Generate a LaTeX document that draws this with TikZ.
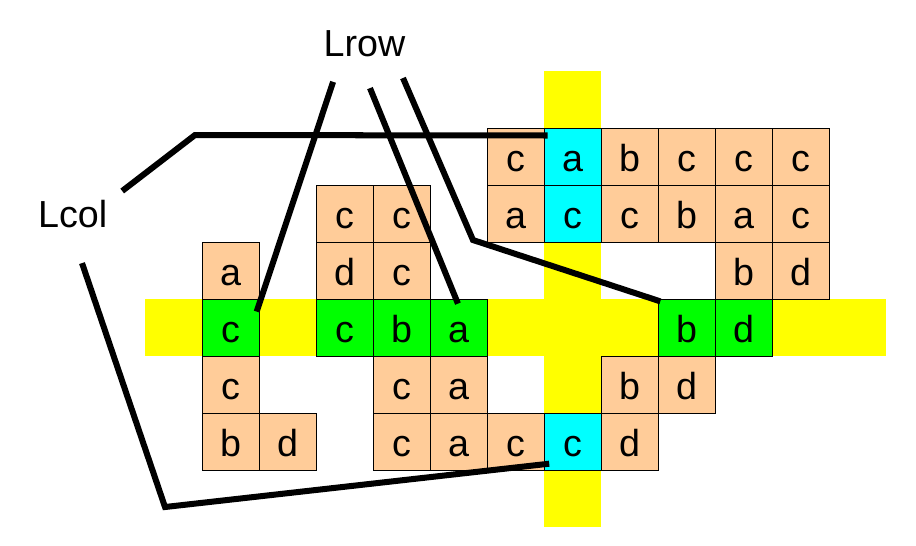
\documentclass[tikz,border=0pt]{standalone}
\usepackage{fontspec}
\setmainfont{Liberation Sans}
\usepackage{tikz}
\definecolor{peach}{HTML}{FFCC99}
\definecolor{barcol}{HTML}{FFFF00}
\definecolor{hitcol}{HTML}{00FFFF}
\definecolor{matchcol}{HTML}{00FF00}

\begin{document}
\begin{tikzpicture}[x=1cm, y=1cm,
    cell/.style={draw, line width=0.5pt, minimum size=1cm, inner sep=0pt,
        text height=0.52cm, text depth=0pt, font=\fontsize{18.8}{22}\selectfont},
    lbl/.style={anchor=base, inner sep=0pt, font=\fontsize{18.8}{22}\selectfont},
    link/.style={line width=3pt}]
        \useasboundingbox (-3.544,-1.316) rectangle (12.526,8.246);
        % the row and the column
        \fill[barcol] (-1,2) rectangle (12,3);
        \fill[barcol] (6,-1) rectangle (7,7);
        \foreach \i/\k/\t in {5/5/c,7/5/b,8/5/c,9/5/c,10/5/c,
            2/4/c,3/4/c,5/4/a,7/4/c,8/4/b,9/4/a,10/4/c,
            0/3/a,2/3/d,3/3/c,9/3/b,10/3/d,
            0/1/c,3/1/c,4/1/a,7/1/b,8/1/d,
            0/0/b,1/0/d,3/0/c,4/0/a,5/0/c,7/0/d} {
            \node[cell, fill=peach] (c-\i-\k) at (\i+0.5,\k+0.5) {\t};
        }
        \foreach \i/\k/\t in {6/5/a,6/4/c,6/0/c} {
            \node[cell, fill=hitcol] (c-\i-\k) at (\i+0.5,\k+0.5) {\t};
        }
        \foreach \i/\k/\t in {0/2/c,2/2/c,3/2/b,4/2/a,8/2/b,9/2/d} {
            \node[cell, fill=matchcol] (c-\i-\k) at (\i+0.5,\k+0.5) {\t};
        }
        \node[lbl] (lrow) at (2.85,7.246) {Lrow};
        \node[lbl] (lcol) at (-2.27,4.246) {Lcol};
        \coordinate (lrow-1) at (2.30,6.81);
        \coordinate (lrow-2) at (2.947,6.70);
        \coordinate (lrow-3) at (3.526,6.877);
        \coordinate (lrow-bend) at (4.754,4.035);
        \coordinate (lcol-1) at (-1.40,4.895);
        \coordinate (lcol-2) at (-2.105,3.63);
        \coordinate (lcol-bend1) at (-0.123,5.877);
        \coordinate (lcol-bend2) at (-0.649,-0.649);
        \draw[link] (lrow-1) -- ([shift={(-0.05,-0.23)}]c-0-2.north east);
        \draw[link] (lrow-2) -- ([shift={(-0.01,-0.09)}]c-4-2.north);
        \draw[link] (lrow-3) -- (lrow-bend) -- ([shift={(0.05,-0.05)}]c-8-2.north west);
        \draw[link] (lcol-1) -- (lcol-bend1) -- ([shift={(0.07,-0.14)}]c-6-5.north west);
        \draw[link] (lcol-2) -- (lcol-bend2) -- ([shift={(0.1,0.12)}]c-6-0.south west);
\end{tikzpicture}
\end{document}
